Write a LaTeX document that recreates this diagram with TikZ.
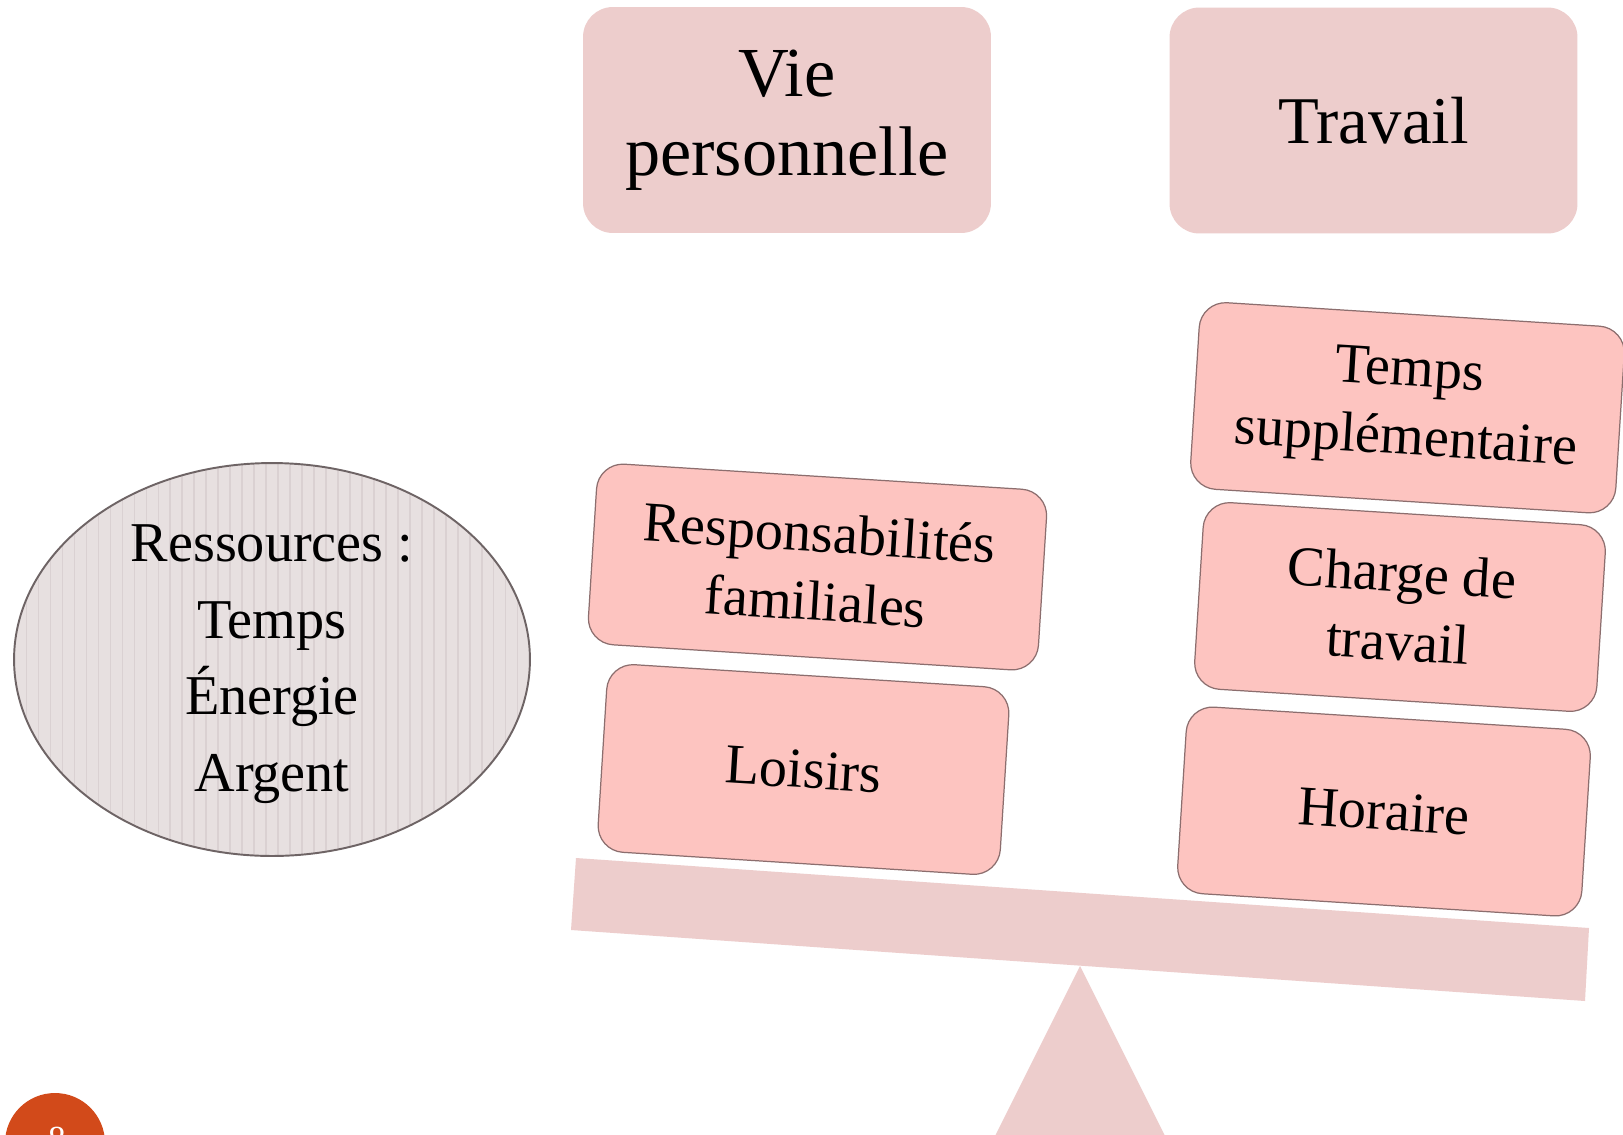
\documentclass[tikz,border=0pt]{standalone}
\usepackage{fontspec}
\setmainfont{Liberation Serif}
\usetikzlibrary{shapes.geometric}
\definecolor{boxpink}{RGB}{237,205,204}
\definecolor{tiltpink}{RGB}{253,196,192}
\definecolor{tiltedge}{RGB}{140,110,110}
\definecolor{ellfill}{RGB}{231,224,224}
\definecolor{ellstripe}{RGB}{218,209,210}
\definecolor{elledge}{RGB}{110,100,101}
\definecolor{orangebadge}{RGB}{210,74,26}
\begin{document}
\begin{tikzpicture}[x=0.02cm,y=-0.02cm,
  topbox/.style={fill=boxpink, rounded corners=17pt, minimum width=8.16cm,
    minimum height=4.52cm, inner sep=0pt, align=center},
  tiltbox/.style={fill=tiltpink, draw=tiltedge, line width=0.7pt,
    rounded corners=15pt, inner sep=0pt, align=center, rotate=-3.6,
    font=\fontsize{32}{39}\selectfont},
  scalepart/.style={fill=boxpink}
]
\clip (0,0) rectangle (1623,1134);
\fill[white] (0,0) rectangle (1623,1134);

% top headers
\node[topbox, font=\fontsize{40}{45}\selectfont] (vie) at (787,120) {Vie\\personnelle};
\node[topbox, font=\fontsize{38}{44}\selectfont] (travail) at (1373.5,120.5) {Travail};

% resources ellipse
\node[ellipse, minimum width=10.32cm, minimum height=7.86cm, inner sep=0pt,
  fill=ellfill, draw=elledge, line width=1.1pt,
  path picture={\foreach \i in {0,...,44}
    \draw[ellstripe, line width=0.6pt]
      ([xshift=\i*0.24cm]path picture bounding box.south west) --
      ([xshift=\i*0.24cm]path picture bounding box.north west);}]
  (res) at (272,659.5) {};
\node[align=center, inner sep=0pt, font=\fontsize{32}{43.6}\selectfont]
  (restext) at (272,664) {Ressources :\\Temps\\\'Energie\\Argent};

% fulcrum and beam
\fill[scalepart] (1080,966) -- (988,1150) -- (1172,1150) -- cycle;
\fill[scalepart] (576,858) -- (1589,928) -- (1585,1001) -- (571,930) -- cycle;

% left pan
\node[tiltbox, minimum width=9.02cm, minimum height=3.62cm] (resp) at (817.5,567)
  {Responsabilit\'es\\familiales};
\node[tiltbox, minimum width=8.06cm, minimum height=3.76cm] (loisirs) at (803.5,769.5)
  {Loisirs};

% right pan
\node[tiltbox, minimum width=8.52cm, minimum height=3.74cm] (supp) at (1407.5,407.75)
  {Temps\\suppl\'ementaire};
\node[tiltbox, minimum width=8.06cm, minimum height=3.74cm] (charge) at (1400,607)
  {Charge de\\travail};
\node[tiltbox, minimum width=8.1cm, minimum height=3.74cm] (horaire) at (1384,811.5)
  {Horaire};

% slide number badge
\node[circle, fill=orangebadge, minimum size=2cm, inner sep=0pt] (badge) at (55,1143) {};
\node[text=white, font=\fontsize{20}{20}\selectfont, anchor=north, inner sep=0pt]
  (num) at (57,1127) {8};
\end{tikzpicture}
\end{document}
